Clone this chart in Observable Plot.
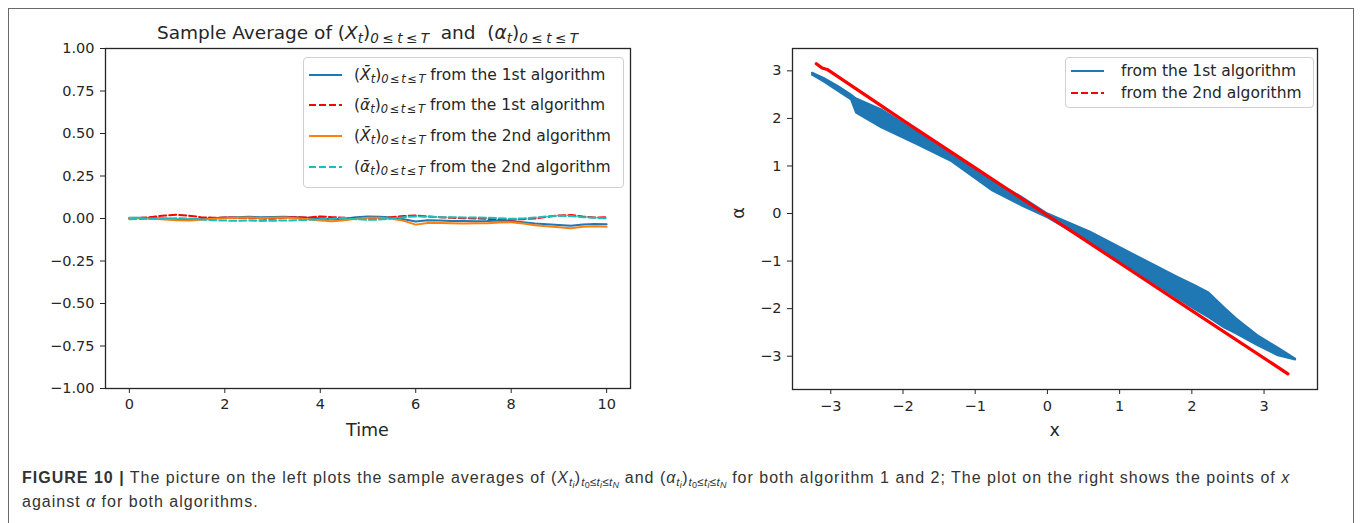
<!DOCTYPE html>
<html><head><meta charset="utf-8">
<script src="https://cdn.jsdelivr.net/npm/d3@7"></script>
<script src="https://cdn.jsdelivr.net/npm/@observablehq/plot@0.6"></script>
<style>
body{margin:0;background:#fff;width:1360px;height:523px;overflow:hidden;position:relative;font-family:"DejaVu Sans",sans-serif;color:#262626;}
.abs{position:absolute;}
#border{position:absolute;left:8px;top:8px;width:1346px;height:540px;border:1.5px solid #6a6a6a;box-sizing:border-box;}
.title{font-size:18.5px;white-space:nowrap;}
.s{font-style:italic;line-height:0;}
.title .s{font-size:13.5px;vertical-align:-4px;}
.title .s .r{margin:0 3.5px;font-style:normal;}
.axlab{font-size:17.5px;white-space:nowrap;line-height:20px;}
.legend{position:absolute;background:rgba(255,255,255,0.85);border:1px solid #d0d0d0;border-radius:4px;box-sizing:border-box;}
.entry{position:absolute;left:0;height:22px;font-size:15.5px;white-space:nowrap;}
.entry svg{position:absolute;left:5px;top:5px;}
.entry .lab{position:absolute;top:0;line-height:22px;}
.entry .s{font-size:11.5px;vertical-align:-3px;}
.entry .s .r{margin:0 1.5px;font-style:normal;}
#caption{position:absolute;left:22px;top:466px;width:1330px;font-family:"Liberation Sans",Arial,sans-serif;font-size:16px;letter-spacing:1.0px;line-height:24px;color:#333;white-space:nowrap;}
#caption sub{font-size:11.5px;vertical-align:-3px;line-height:0;letter-spacing:0.3px;}
#caption sub sub{font-size:9px;vertical-align:-2px;}
</style></head><body>
<div id="border"></div>
<div id="left" class="abs" style="left:0;top:0"></div>
<div id="right" class="abs" style="left:680px;top:0"></div>

<div id="title" class="abs title">Sample Average of (<i>X</i><span class="s">t</span>)<span class="s">0<span class="r">≤</span>t<span class="r">≤</span>T</span>&nbsp; and &nbsp;(<i>α</i><span class="s">t</span>)<span class="s">0<span class="r">≤</span>t<span class="r">≤</span>T</span></div>
<div id="timeLab" class="abs axlab">Time</div>
<div id="xLab" class="abs axlab">x</div>
<div id="aLab" class="abs axlab" style="transform:rotate(-90deg);">α</div>

<div class="legend" style="left:303px;top:57px;width:321px;height:131px;">
  <div class="entry" style="top:6px;width:320px"><svg width="34" height="12"><line x1="0" y1="6" x2="33" y2="6" stroke="#1f77b4" stroke-width="2.2"/></svg><span class="lab" style="left:50px">(<i>X̄</i><span class="s">t</span>)<span class="s">0<span class="r">≤</span>t<span class="r">≤</span>T</span> from the 1st algorithm</span></div>
  <div class="entry" style="top:36px;width:320px"><svg width="34" height="12"><line x1="0" y1="6" x2="33" y2="6" stroke="#ff0000" stroke-width="2.2" stroke-dasharray="7,3"/></svg><span class="lab" style="left:50px">(<i>ᾱ</i><span class="s">t</span>)<span class="s">0<span class="r">≤</span>t<span class="r">≤</span>T</span> from the 1st algorithm</span></div>
  <div class="entry" style="top:67px;width:320px"><svg width="34" height="12"><line x1="0" y1="6" x2="33" y2="6" stroke="#ff7f0e" stroke-width="2.2"/></svg><span class="lab" style="left:50px">(<i>X̄</i><span class="s">t</span>)<span class="s">0<span class="r">≤</span>t<span class="r">≤</span>T</span> from the 2nd algorithm</span></div>
  <div class="entry" style="top:98px;width:320px"><svg width="34" height="12"><line x1="0" y1="6" x2="33" y2="6" stroke="#17bfbf" stroke-width="2.2" stroke-dasharray="7,3"/></svg><span class="lab" style="left:50px">(<i>ᾱ</i><span class="s">t</span>)<span class="s">0<span class="r">≤</span>t<span class="r">≤</span>T</span> from the 2nd algorithm</span></div>
</div>
<div class="legend" style="left:1065px;top:57px;width:249px;height:51px;">
  <div class="entry" style="top:2px;width:248px"><svg width="34" height="12"><line x1="0" y1="6" x2="33" y2="6" stroke="#1f77b4" stroke-width="2.2"/></svg><span class="lab" style="left:55px">from the 1st algorithm</span></div>
  <div class="entry" style="top:24px;width:248px"><svg width="34" height="12"><line x1="0" y1="6" x2="33" y2="6" stroke="#ff0000" stroke-width="2.2" stroke-dasharray="7,3"/></svg><span class="lab" style="left:55px">from the 2nd algorithm</span></div>
</div>

<div id="caption"><b>FIGURE 10 |</b> The picture on the left plots the sample averages of (<i>X<sub>t<sub>i</sub></sub></i>)<sub><i>t</i><sub>0</sub>≤<i>t<sub>i</sub></i>≤<i>t<sub>N</sub></i></sub> and (<i>α<sub>t<sub>i</sub></sub></i>)<sub><i>t</i><sub>0</sub>≤<i>t<sub>i</sub></i>≤<i>t<sub>N</sub></i></sub> for both algorithm 1 and 2; The plot on the right shows the points of <i>x</i><br>against <i>α</i> for both algorithms.</div>

<script>
// ---- Left panel data (sample averages over time) ----
const time = [0,0.25,0.5,0.75,1,1.25,1.5,1.75,2,2.25,2.5,2.75,3,3.25,3.5,3.75,4,4.25,4.5,4.75,5,5.25,5.5,5.75,6,6.25,6.5,6.75,7,7.25,7.5,7.75,8,8.25,8.5,8.75,9,9.25,9.5,9.75,10];
const xbar1 = [0.005,0.004,0.002,0.0,-0.004,-0.006,-0.003,0.002,0.006,0.008,0.010,0.008,0.009,0.011,0.008,0.004,0.002,-0.004,-0.002,0.008,0.012,0.010,0.006,-0.004,-0.018,-0.010,-0.012,-0.014,-0.015,-0.016,-0.015,-0.012,-0.014,-0.022,-0.030,-0.034,-0.038,-0.043,-0.036,-0.033,-0.034];
const abar1 = [0.000,0.004,0.010,0.018,0.022,0.016,0.008,0.004,0.006,0.004,0.002,0.000,-0.002,0.004,0.008,0.006,0.012,0.008,0.004,0.000,-0.004,0.000,0.008,0.014,0.018,0.012,0.008,0.004,0.002,0.000,-0.002,-0.004,-0.006,-0.004,0.000,0.010,0.018,0.020,0.012,0.006,0.008];
const xbar2 = [0.003,0.001,-0.002,-0.006,-0.010,-0.012,-0.008,-0.002,0.002,0.004,0.006,0.003,0.004,0.006,0.002,-0.004,-0.012,-0.016,-0.010,-0.002,0.004,0.004,-0.002,-0.014,-0.036,-0.026,-0.026,-0.028,-0.030,-0.028,-0.028,-0.024,-0.022,-0.030,-0.040,-0.046,-0.052,-0.058,-0.048,-0.045,-0.048];
const abar2 = [-0.004,-0.003,-0.002,0.000,0.002,0.000,-0.006,-0.010,-0.012,-0.014,-0.012,-0.014,-0.013,-0.012,-0.010,-0.008,-0.004,-0.002,0.004,-0.004,-0.008,-0.006,0.000,0.008,0.012,0.010,0.008,0.008,0.006,0.006,0.004,0.002,-0.002,0.000,0.006,0.012,0.016,0.014,0.008,0.004,0.002];
const leftXTicks = [0,2,4,6,8,10];
const leftYTicks = [-1,-0.75,-0.5,-0.25,0,0.25,0.5,0.75,1];

// ---- Right panel data (x against alpha) ----
// 1st algorithm: band traced by the path, as lower / upper envelope
const bandX     = [-3.26,-3.10,-2.90,-2.72,-2.65,-2.30,-1.81,-1.33,-0.76,-0.37,0.00,0.59,1.31,1.80,2.03,2.23,2.45,2.61,2.90,3.19,3.43];
const bandUpper = [2.96,2.85,2.68,2.50,2.42,2.19,1.72,1.24,0.70,0.36,0.00,-0.38,-0.95,-1.33,-1.50,-1.66,-1.98,-2.20,-2.55,-2.82,-3.05];
const bandLower = [2.92,2.78,2.58,2.40,2.12,1.81,1.46,1.10,0.48,0.18,-0.08,-0.60,-1.30,-1.78,-2.00,-2.18,-2.40,-2.52,-2.76,-2.98,-3.07];
// 2nd algorithm
const redX     = [-3.20,-3.12,-3.05,-2.00,-1.00,0.00,1.00,2.00,3.33];
const redAlpha = [3.15,3.06,3.03,1.96,0.96,-0.04,-1.04,-2.04,-3.37];
const rightTicks = [-3,-2,-1,0,1,2,3];

const ink = "#262626";
const baseStyle = {fontFamily:"DejaVu Sans", fontSize:"14.5px", color:ink, background:"transparent", overflow:"visible"};

const leftData = time.map((t,i)=>({t, xbar1:xbar1[i], abar1:abar1[i], xbar2:xbar2[i], abar2:abar2[i]}));
const left = Plot.plot({
  width:680, height:450,
  marginLeft:105, marginRight:50, marginTop:48, marginBottom:62,
  style: baseStyle,
  x:{domain:[-0.5,10.5], ticks:leftXTicks, tickSize:5, tickPadding:5, label:null},
  y:{domain:[-1,1], ticks:leftYTicks, tickFormat:d3.format(".2f"), tickSize:5, tickPadding:6, label:null},
  marks:[
    Plot.lineY(leftData,{x:"t", y:"xbar1", stroke:"#1f77b4", strokeWidth:2}),
    Plot.lineY(leftData,{x:"t", y:"abar1", stroke:"#ff0000", strokeWidth:2, strokeDasharray:"7,3"}),
    Plot.lineY(leftData,{x:"t", y:"xbar2", stroke:"#ff7f0e", strokeWidth:2}),
    Plot.lineY(leftData,{x:"t", y:"abar2", stroke:"#17bfbf", strokeWidth:2, strokeDasharray:"7,3"}),
    Plot.frame({stroke:ink, strokeWidth:1.3})
  ]
});
document.getElementById("left").appendChild(left);

const band = bandX.map((x,i)=>({x, lo:bandLower[i], hi:bandUpper[i]}));
const red = redX.map((x,i)=>({x, a:redAlpha[i]}));
const right = Plot.plot({
  width:680, height:450,
  marginLeft:112, marginRight:43, marginTop:48, marginBottom:61,
  style: baseStyle,
  x:{domain:[-3.53,3.74], ticks:rightTicks, tickSize:5, tickPadding:6, label:null},
  y:{domain:[-3.70,3.47], ticks:rightTicks, tickSize:5, tickPadding:6, label:null},
  marks:[
    Plot.areaY(band,{x:"x", y1:"lo", y2:"hi", fill:"#1f77b4"}),
    Plot.line(band,{x:"x", y:"hi", stroke:"#1f77b4", strokeWidth:2}),
    Plot.line(band,{x:"x", y:"lo", stroke:"#1f77b4", strokeWidth:2}),
    Plot.line(red,{x:"x", y:"a", stroke:"#ff0000", strokeWidth:3.2}),
    Plot.frame({stroke:ink, strokeWidth:1.3})
  ]
});
document.getElementById("right").appendChild(right);

// center text labels on their axes
function centerAt(id, cx, cy){
  const el = document.getElementById(id);
  const w = el.offsetWidth, h = el.offsetHeight;
  el.style.left = (cx - w/2) + "px";
  el.style.top = (cy - h/2) + "px";
}
centerAt("title", 367.5, 32);
centerAt("timeLab", 367.5, 430);
centerAt("xLab", 1054.5, 430);
centerAt("aLab", 738, 213);
</script>
</body></html>
